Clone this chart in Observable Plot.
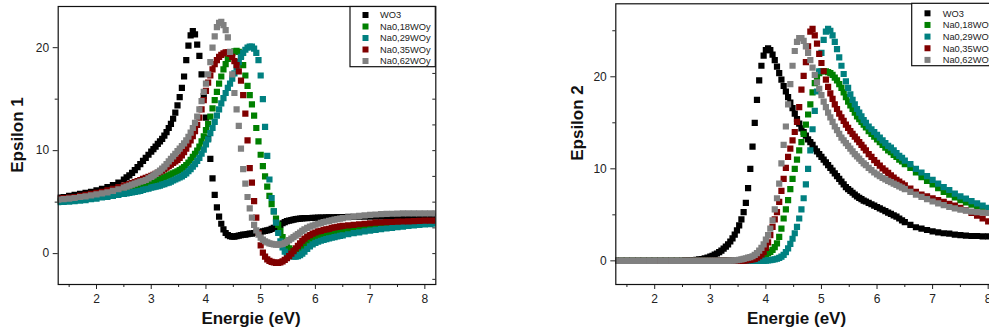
<!DOCTYPE html>
<html><head><meta charset="utf-8">
<script src="https://cdn.jsdelivr.net/npm/d3@7"></script>
<script src="https://cdn.jsdelivr.net/npm/@observablehq/plot@0.6"></script>
<style>
html,body{margin:0;padding:0;background:#fff;overflow:hidden;width:989px;height:333px;}
#wrap{position:relative;width:989px;height:333px;overflow:hidden;}
#wrap svg{position:absolute;top:0;}
</style></head><body><div id="wrap"></div>
<script>
const seriesNames = ["WO3","Na0,18WOy","Na0,29WOy","Na0,35WOy","Na0,62WOy"];
const seriesColors = ["#000000","#008000","#008080","#800000","#808080"];
const xLabel = "Energie (eV)";
const yLabels = ["Epsilon 1","Epsilon 2"];
const xTicks = [2,3,4,5,6,7,8];
const xMinorTicks = [1.5,2.5,3.5,4.5,5.5,6.5,7.5];
const yTicks = [0,10,20];
const y1MinorTicks = [5,15];
const y2MinorTicks = [5,15,25];
const y1RightTicks = [-2.5,0,2.5,5,7.5,10,12.5,15,17.5,20,22.5];

const energy = [1.3,1.4,1.5,1.6,1.7,1.8,1.9,2.0,2.1,2.2,2.3,2.4,2.5,
2.55,2.6,2.65,2.7,2.75,2.8,2.85,2.9,2.95,3.0,
3.04,3.08,3.12,3.16,3.2,3.24,3.28,3.32,3.36,3.4,
3.44,3.48,3.52,3.56,3.6,3.64,3.68,3.72,3.76,3.8,
3.84,3.88,3.92,3.96,4.0,4.04,4.08,4.12,4.16,4.2,
4.24,4.28,4.32,4.36,4.4,4.44,4.48,4.52,4.56,4.6,
4.64,4.68,4.72,4.76,4.8,4.84,4.88,4.92,4.96,5.0,
5.04,5.08,5.12,5.16,5.2,5.24,5.28,5.32,5.36,5.4,
5.44,5.48,5.52,5.56,5.6,5.64,5.68,5.72,5.76,5.8,
5.85,5.9,5.95,6.0,6.05,6.1,6.15,6.2,6.25,6.3,6.35,6.4,6.45,6.5,
6.6,6.7,6.8,6.9,7.0,7.1,7.2,7.3,7.4,7.5,7.6,7.7,7.8,7.9,8.0,8.1,8.2];

// Epsilon 1
const eps1_WO3 = [5.45,5.5,5.6,5.7,5.8,5.9,6.0,6.15,6.3,6.45,6.65,6.9,7.2,
7.4,7.6,7.85,8.1,8.4,8.7,9.0,9.3,9.6,9.9,
10.15,10.4,10.65,10.9,11.15,11.45,11.8,12.2,12.6,13.1,
13.7,14.4,15.2,16.1,17.2,18.8,20.2,21.2,21.6,21.3,
20.3,19.2,17.4,15.3,13.2,11.2,9.2,7.3,5.7,4.5,
3.6,2.9,2.35,2.0,1.8,1.7,1.65,1.65,1.7,1.75,
1.8,1.85,1.85,1.9,1.95,1.95,2.0,2.05,2.05,2.1,
2.15,2.2,2.25,2.3,2.4,2.5,2.6,2.7,2.8,2.95,
3.05,3.15,3.2,3.25,3.3,3.35,3.38,3.4,3.42,3.44,
3.45,3.46,3.47,3.48,3.49,3.5,3.5,3.51,3.52,3.52,3.53,3.54,3.55,3.55,
3.56,3.57,3.58,3.58,3.59,3.6,3.6,3.6,3.6,3.6,3.6,3.6,3.6,3.6,3.6,3.6,3.6];
const eps1_Na018 = [5.1,5.15,5.2,5.25,5.3,5.4,5.45,5.55,5.65,5.75,5.85,5.95,6.05,
6.1,6.2,6.25,6.3,6.4,6.45,6.55,6.65,6.75,6.85,
6.95,7.0,7.1,7.2,7.3,7.4,7.5,7.6,7.7,7.8,
7.9,8.0,8.1,8.25,8.4,8.6,8.85,9.1,9.4,9.7,
10.0,10.4,10.9,11.4,12.0,12.6,13.3,14.1,14.9,15.7,
16.5,17.2,17.9,18.4,18.9,19.2,19.5,19.65,19.7,19.6,
19.2,18.3,17.3,16.3,15.4,14.5,13.4,12.2,10.9,9.6,
8.5,7.5,6.5,5.6,4.8,4.1,3.4,2.8,2.2,1.6,
1.1,0.75,0.5,0.35,0.3,0.3,0.4,0.55,0.75,0.95,
1.15,1.3,1.4,1.5,1.58,1.65,1.72,1.78,1.84,1.9,1.95,2.0,2.05,2.1,
2.18,2.26,2.33,2.4,2.47,2.53,2.59,2.65,2.7,2.75,2.8,2.84,2.88,2.92,2.95,2.98,3.0];
const eps1_Na029 = [5.0,5.02,5.05,5.1,5.15,5.2,5.3,5.35,5.45,5.5,5.6,5.7,5.8,
5.85,5.9,5.95,6.0,6.05,6.1,6.2,6.25,6.3,6.4,
6.45,6.5,6.55,6.6,6.7,6.75,6.85,6.9,7.0,7.1,
7.2,7.3,7.4,7.5,7.65,7.8,8.0,8.2,8.45,8.7,
9.0,9.3,9.7,10.1,10.6,11.1,11.7,12.2,12.8,13.4,
14.0,14.6,15.1,15.6,16.1,16.5,17.0,17.5,18.1,18.6,
19.1,19.5,19.8,20.0,20.1,20.1,19.9,19.5,18.8,17.3,
15.0,12.3,9.5,7.2,5.4,4.1,3.0,2.0,1.2,0.6,
0.2,0.0,-0.15,-0.25,-0.3,-0.3,-0.25,-0.15,0.0,0.2,
0.45,0.7,0.9,1.05,1.15,1.25,1.33,1.4,1.47,1.54,1.6,1.66,1.72,1.78,
1.88,1.98,2.07,2.15,2.23,2.3,2.37,2.44,2.5,2.56,2.62,2.68,2.73,2.78,2.83,2.87,2.9];
const eps1_Na035 = [5.35,5.4,5.45,5.5,5.6,5.7,5.8,5.9,6.0,6.15,6.3,6.45,6.6,
6.65,6.75,6.85,6.95,7.05,7.15,7.25,7.35,7.45,7.55,
7.65,7.75,7.85,7.95,8.05,8.2,8.35,8.5,8.65,8.8,
8.95,9.1,9.3,9.55,9.85,10.2,10.6,11.0,11.4,11.9,
12.5,13.2,14.0,14.9,15.8,16.6,17.3,17.9,18.4,18.8,
19.1,19.3,19.45,19.55,19.55,19.4,19.1,18.7,18.3,17.7,
16.8,15.4,13.6,11.0,8.3,6.9,5.1,3.5,2.0,0.8,
0.1,-0.3,-0.55,-0.7,-0.8,-0.85,-0.9,-0.9,-0.85,-0.75,
-0.6,-0.45,-0.25,0.0,0.25,0.5,0.75,1.0,1.25,1.45,
1.65,1.8,1.95,2.05,2.15,2.2,2.3,2.35,2.4,2.5,2.55,2.6,2.65,2.7,
2.75,2.8,2.85,2.9,2.95,3.0,3.02,3.05,3.07,3.1,3.12,3.14,3.16,3.18,3.2,3.2,3.2];
const eps1_Na062 = [5.25,5.3,5.35,5.4,5.5,5.55,5.65,5.75,5.85,5.95,6.1,6.25,6.4,
6.5,6.6,6.7,6.8,6.9,7.0,7.05,7.15,7.3,7.45,
7.6,7.75,7.9,8.05,8.25,8.45,8.7,8.95,9.2,9.45,
9.7,9.95,10.2,10.45,10.7,11.0,11.35,11.75,12.2,12.7,
13.3,14.0,14.8,15.7,16.5,17.4,18.6,20.0,21.1,22.0,
22.4,22.5,22.2,21.7,21.0,19.6,17.4,15.6,14.0,12.4,
10.2,8.2,6.8,5.5,4.4,3.5,2.8,2.25,1.85,1.55,
1.35,1.2,1.1,1.0,0.95,0.9,0.88,0.88,0.9,0.95,
1.05,1.15,1.3,1.45,1.6,1.75,1.9,2.05,2.2,2.35,
2.5,2.62,2.72,2.82,2.9,2.98,3.05,3.12,3.18,3.24,3.3,3.35,3.4,3.44,
3.52,3.6,3.66,3.72,3.77,3.8,3.83,3.85,3.87,3.88,3.9,3.9,3.9,3.9,3.9,3.9,3.9];

// Epsilon 2
const eps2_WO3 = [0,0,0,0,0,0,0,0,0,0,0,0,0,
0.02,0.03,0.05,0.07,0.1,0.15,0.2,0.27,0.35,0.45,
0.55,0.67,0.8,0.95,1.12,1.32,1.55,1.8,2.1,2.45,
2.85,3.3,3.85,4.5,5.3,6.3,7.9,10.0,12.4,15.0,
17.5,19.6,21.2,22.3,22.9,23.1,22.9,22.4,21.8,21.1,
20.4,19.7,19.0,18.4,17.8,17.2,16.6,16.0,15.4,14.9,
14.4,14.0,13.6,13.2,12.9,12.6,12.2,11.9,11.6,11.3,
11.0,10.7,10.4,10.1,9.8,9.5,9.2,8.9,8.6,8.3,
8.0,7.8,7.6,7.4,7.2,7.0,6.85,6.7,6.55,6.45,
6.3,6.15,6.0,5.85,5.7,5.55,5.4,5.25,5.1,4.95,4.8,4.6,4.4,4.2,
3.9,3.65,3.5,3.35,3.2,3.1,3.0,2.95,2.85,2.8,2.75,2.7,2.7,2.65,2.65,2.65,2.65];
const eps2_Na018 = [0,0,0,0,0,0,0,0,0,0,0,0,0,
0,0,0,0,0,0,0,0,0,0,
0,0,0,0,0,0,0,0,0,0,
0,0.01,0.02,0.03,0.05,0.07,0.1,0.14,0.19,0.25,
0.32,0.4,0.5,0.6,0.7,0.82,0.98,1.2,1.5,1.9,
2.6,3.5,4.6,5.6,6.6,7.8,8.9,10.0,11.0,12.0,
12.9,13.8,14.8,15.9,17.0,18.3,19.3,20.0,20.4,20.6,
20.6,20.6,20.5,20.4,20.2,19.9,19.6,19.2,18.8,18.3,
17.8,17.3,16.9,16.5,16.1,15.7,15.4,15.1,14.8,14.5,
14.1,13.8,13.5,13.2,12.9,12.6,12.3,12.0,11.8,11.5,11.3,11.0,10.8,10.5,
10.1,9.6,9.1,8.7,8.3,7.9,7.5,7.2,6.9,6.6,6.35,6.1,5.85,5.6,5.4,5.2,5.0];
const eps2_Na029 = [0,0,0,0,0,0,0,0,0,0,0,0,0,
0,0,0,0,0,0,0,0,0,0,
0,0,0,0,0,0,0,0,0,0,
0,0,0,0,0,0,0,0,0,0,
0,0,0,0,0.02,0.05,0.08,0.12,0.17,0.23,
0.32,0.45,0.65,0.95,1.35,1.85,2.4,3.0,3.7,4.6,
5.6,6.8,8.3,10.0,12.0,14.3,16.3,18.4,20.6,22.6,
24.0,24.9,25.2,25.0,24.5,23.8,23.0,22.1,21.2,20.3,
19.5,18.8,18.1,17.5,17.0,16.5,16.1,15.7,15.3,15.0,
14.6,14.3,14.0,13.7,13.4,13.1,12.8,12.5,12.3,12.0,11.7,11.4,11.2,10.9,
10.5,10.0,9.6,9.2,8.8,8.4,8.0,7.7,7.3,7.0,6.75,6.5,6.25,6.0,5.75,5.55,5.4];
const eps2_Na035 = [0,0,0,0,0,0,0,0,0,0,0,0,0,
0,0,0,0,0,0,0,0,0,0,
0,0,0,0,0,0,0,0,0,0,
0,0,0,0,0.02,0.04,0.07,0.1,0.15,0.22,
0.35,0.5,0.7,0.95,1.4,2.0,2.8,3.7,4.5,5.3,
6.4,7.6,8.9,10.1,11.3,12.2,13.1,14.0,15.1,16.7,
18.6,20.1,21.6,23.3,24.9,25.2,24.5,23.6,22.5,21.5,
20.6,19.7,18.9,18.2,17.6,17.0,16.5,16.0,15.6,15.2,
14.8,14.45,14.1,13.8,13.5,13.2,12.9,12.6,12.3,12.0,
11.6,11.3,10.95,10.65,10.35,10.05,9.8,9.55,9.3,9.05,8.8,8.6,8.4,8.2,
7.85,7.5,7.2,7.0,6.8,6.6,6.4,6.2,6.0,5.75,5.5,5.2,4.9,4.6,4.3,4.1,3.9];
const eps2_Na062 = [0,0,0,0,0,0,0,0,0,0,0,0,0,
0,0,0,0,0,0,0,0,0,0,
0,0,0,0,0,0,0,0,0.02,0.03,
0.05,0.08,0.12,0.17,0.22,0.28,0.34,0.4,0.5,0.65,
0.85,1.1,1.4,1.8,2.3,2.8,3.5,4.4,5.6,6.8,
8.4,10.6,12.6,14.6,17.0,19.2,21.2,22.8,23.8,24.2,
24.2,23.9,23.3,22.6,21.8,21.0,20.2,19.4,18.7,18.0,
17.3,16.7,16.1,15.6,15.1,14.6,14.2,13.8,13.4,13.1,
12.8,12.5,12.2,11.9,11.6,11.35,11.1,10.85,10.6,10.4,
10.1,9.85,9.6,9.4,9.2,9.0,8.85,8.7,8.55,8.4,8.25,8.1,7.95,7.8,
7.5,7.2,6.95,6.7,6.45,6.25,6.05,5.85,5.7,5.55,5.45,5.35,5.3,5.25,5.2,5.15,5.1];

const eps1Series = [eps1_WO3, eps1_Na018, eps1_Na029, eps1_Na035, eps1_Na062];
const eps2Series = [eps2_WO3, eps2_Na018, eps2_Na029, eps2_Na035, eps2_Na062];

const FONT = "'Liberation Sans', Arial, Helvetica, sans-serif";
const fmt = d3.format("d");

function toRows(seriesList) {
  const rows = [];
  seriesList.forEach((vals, k) => {
    const n = Math.min(vals.length, energy.length);
    if (vals.length !== energy.length) console.warn("length mismatch", k, vals.length, energy.length);
    for (let i = 0; i < n; i++) rows.push({e: energy[i], v: vals[i], s: seriesNames[k]});
  });
  return rows;
}

function panel(cfg) {
  const fw = cfg.width - cfg.mLeft - cfg.mRight;
  const marks = [
    Plot.dot(toRows(cfg.series), {x: "e", y: "v", fill: "s", symbol: "square", r: 3.5, clip: true}),
    Plot.axisX({ticks: xTicks, tickSize: 5, tickPadding: 5, fontSize: 12, tickFormat: fmt, label: null}),
    Plot.axisX({ticks: xMinorTicks, tickSize: 3, tickFormat: () => "", label: null}),
    Plot.axisY({ticks: yTicks, tickSize: 5, tickPadding: 4, fontSize: 12, tickFormat: fmt, label: null}),
    Plot.axisY({ticks: cfg.yMinor, tickSize: 3, tickFormat: () => "", label: null})
  ];
  if (cfg.rightTicks) marks.push(Plot.tickY(cfg.rightTicks, {y: d => d, insetLeft: fw - 3, stroke: "#222"}));
  marks.push(Plot.frame({stroke: "#111", strokeWidth: 1.2}));
  const svg = Plot.plot({
    width: cfg.width, height: 333,
    marginLeft: cfg.mLeft, marginRight: cfg.mRight, marginTop: cfg.mTop, marginBottom: cfg.mBottom,
    style: {fontFamily: FONT, background: "transparent", color: "#222", overflow: "visible"},
    x: {domain: [1.3, 8.2]},
    y: {domain: cfg.yDomain},
    color: {domain: seriesNames, range: seriesColors},
    marks
  });
  svg.style.left = cfg.left + "px";
  const s = d3.select(svg);
  // legend
  const L = cfg.legend;
  const g = s.append("g").attr("text-anchor", "start");
  g.append("rect").attr("x", L.x).attr("y", L.y).attr("width", L.w).attr("height", L.h)
    .attr("fill", "white").attr("stroke", "#111").attr("stroke-width", 1.2);
  seriesNames.forEach((name, i) => {
    const cy = L.rowY0 + i * L.rowStep;
    g.append("rect").attr("x", L.sqX - 3).attr("y", cy - 3).attr("width", 6).attr("height", 6).attr("fill", seriesColors[i]);
    g.append("text").attr("x", L.txtX).attr("y", cy).attr("dy", "0.35em").attr("text-anchor", "start")
      .attr("font-size", 9.3).attr("font-family", FONT).attr("fill", "#222").text(name);
  });
  // axis titles
  s.append("text").attr("transform", `translate(${cfg.yTitleX},${cfg.yTitleY}) rotate(-90)`)
    .attr("text-anchor", "middle").attr("dy", "0.35em").attr("font-size", 17).attr("font-weight", "bold")
    .attr("font-family", FONT).attr("fill", "#111").text(cfg.yTitle);
  s.append("text").attr("x", cfg.xTitleX).attr("y", 318)
    .attr("text-anchor", "middle").attr("dy", "0.35em").attr("font-size", 17).attr("font-weight", "bold")
    .attr("font-family", FONT).attr("fill", "#111").text(xLabel);
  document.getElementById("wrap").appendChild(svg);
}

panel({
  left: 0, width: 450, mLeft: 57.7, mRight: 14.7, mTop: 6, mBottom: 49,
  yDomain: [-3, 24], yMinor: y1MinorTicks, rightTicks: y1RightTicks, series: eps1Series,
  legend: {x: 350, y: 6.5, w: 85.3, h: 60.2, sqX: 365.5, txtX: 380, rowY0: 15, rowStep: 11.5},
  yTitle: yLabels[0], yTitleX: 17, yTitleY: 135, xTitleX: 251
});
panel({
  left: 540, width: 470, mLeft: 75.3, mRight: 11.2, mTop: 3.3, mBottom: 49,
  yDomain: [-2.57, 27.93], yMinor: y2MinorTicks, rightTicks: null, series: eps2Series,
  legend: {x: 371.7, y: 3.3, w: 87.1, h: 62.4, sqX: 387.5, txtX: 402.7, rowY0: 13.3, rowStep: 11.65},
  yTitle: yLabels[1], yTitleX: 37.3, yTitleY: 123, xTitleX: 256.5
});
</script></body></html>
